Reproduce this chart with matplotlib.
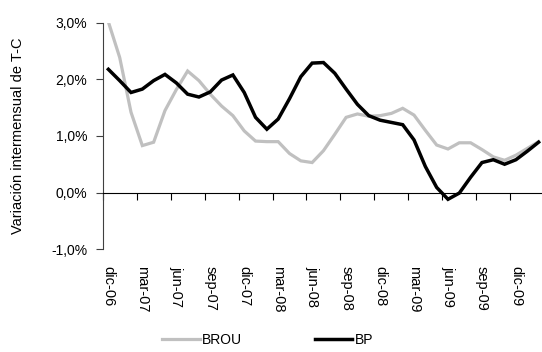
import matplotlib
matplotlib.use("Agg")
import matplotlib.pyplot as plt

plt.rcParams['font.family'] = ['Liberation Sans', 'DejaVu Sans']

# monthly, dic-06 .. feb-10
months = ['dic-06', 'ene-07', 'feb-07', 'mar-07', 'abr-07', 'may-07', 'jun-07', 'jul-07', 'ago-07',
          'sep-07', 'oct-07', 'nov-07', 'dic-07', 'ene-08', 'feb-08', 'mar-08', 'abr-08', 'may-08',
          'jun-08', 'jul-08', 'ago-08', 'sep-08', 'oct-08', 'nov-08', 'dic-08', 'ene-09', 'feb-09',
          'mar-09', 'abr-09', 'may-09', 'jun-09', 'jul-09', 'ago-09', 'sep-09', 'oct-09', 'nov-09',
          'dic-09', 'ene-10', 'feb-10']

brou = [3.02, 2.39, 1.42, 0.83, 0.89, 1.45, 1.82, 2.15, 1.98, 1.74, 1.53, 1.36, 1.09,
        0.91, 0.90, 0.90, 0.69, 0.56, 0.53, 0.74, 1.03, 1.33, 1.39, 1.35, 1.36, 1.40,
        1.49, 1.37, 1.10, 0.84, 0.77, 0.88, 0.88, 0.76, 0.63, 0.57, 0.66, 0.78, 0.90]

bp = [2.18, 1.98, 1.77, 1.83, 1.98, 2.09, 1.94, 1.74, 1.69, 1.78, 1.99, 2.08, 1.77,
      1.33, 1.12, 1.30, 1.66, 2.05, 2.29, 2.30, 2.11, 1.83, 1.56, 1.36, 1.28, 1.24,
      1.20, 0.93, 0.46, 0.09, -0.12, -0.01, 0.27, 0.53, 0.58, 0.50, 0.58, 0.73, 0.89]

yticks = [-1, 0, 1, 2, 3]
ytick_labels = ['-1,0%', '0,0%', '1,0%', '2,0%', '3,0%']

x = list(range(len(months)))

fig = plt.figure(figsize=(5.42, 3.52), dpi=100)
ax = fig.add_axes([0.1895, 0.2926, 0.8146, 0.6421])

ax.plot(x, brou, color='#c0c0c0', lw=2.3, label='BROU', solid_joinstyle='miter')
ax.plot(x, bp, color='black', lw=2.5, label='BP', solid_joinstyle='miter')

ax.set_xlim(-0.5, len(months) - 0.5)
ax.set_ylim(-1, 3)

ax.spines['top'].set_visible(False)
ax.spines['right'].set_visible(False)
ax.spines['bottom'].set_position(('data', 0))
ax.spines['left'].set_color('#404040')

ax.set_yticks(yticks)
ax.set_yticklabels(ytick_labels, fontsize=10)
ax.tick_params(axis='y', direction='out', length=5, color='#404040', pad=6)

# tick marks at category boundaries every 3 months
ax.set_xticks([i - 0.5 for i in range(0, len(months), 3)])
ax.set_xticklabels([])
ax.tick_params(axis='x', direction='out', length=5)

# labels low, at category centres
sec = ax.secondary_xaxis(0.0)
sec.set_xticks(x[::3])
sec.set_xticklabels(months[::3], rotation=-90, fontsize=10.5)
sec.tick_params(length=0, pad=12)
sec.spines['bottom'].set_visible(False)

ax.set_ylabel('Variación intermensual de T-C', fontsize=10.5, labelpad=19)

fig.legend(loc='center', bbox_to_anchor=(0.494, 0.035), ncol=2, frameon=False,
           fontsize=10, handlelength=2.7, handletextpad=0.2, columnspacing=5.2)

fig.savefig('out.png', dpi=100)
